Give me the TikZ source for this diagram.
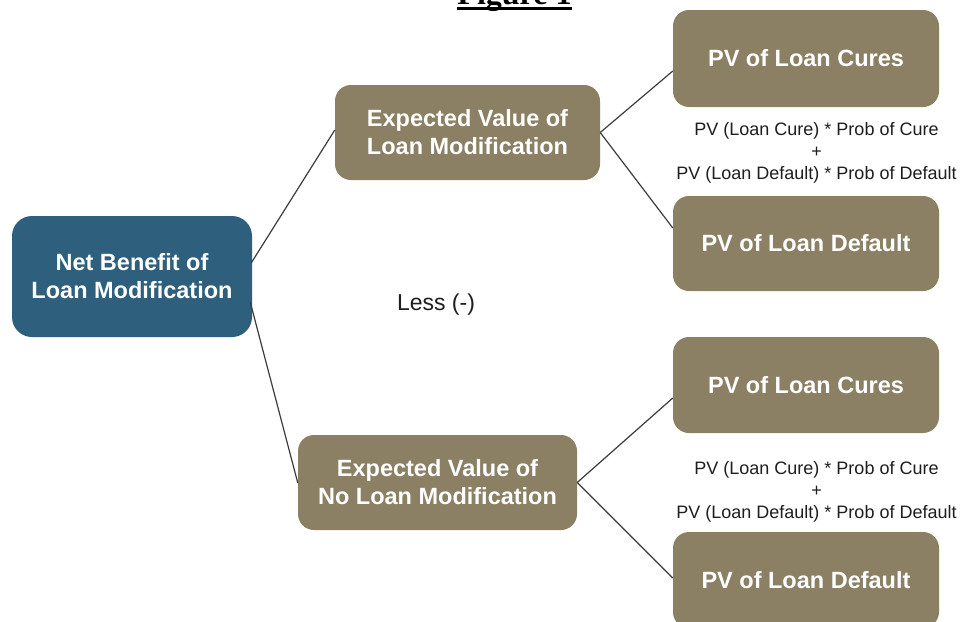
\documentclass[tikz,border=0pt]{standalone}
\usepackage{fontspec}
\setmainfont{Liberation Sans}
\newfontfamily\titlefont{Liberation Serif}
\definecolor{rootblue}{RGB}{46,95,124}
\definecolor{branchtan}{RGB}{139,128,100}
\definecolor{linkgray}{RGB}{60,60,60}
\definecolor{notegray}{RGB}{30,30,30}
\tikzset{
  rootbox/.style={draw=none, fill=rootblue, rounded corners=20pt, text=white,
    font=\bfseries\fontsize{23.5}{28}\selectfont, align=center, inner sep=0pt},
  leafbox/.style={draw=none, fill=branchtan, rounded corners=16pt, text=white,
    font=\bfseries\fontsize{23.5}{28}\selectfont, align=center, inner sep=0pt,
    minimum width=266pt},
  link/.style={draw=linkgray, line width=1.2pt},
  formula/.style={text=notegray, align=center, inner sep=0pt,
    font=\fontsize{18}{22}\selectfont}
}
\begin{document}
\begin{tikzpicture}[x=1pt,y=-1pt]
\path[use as bounding box, clip] (0,0) rectangle (960,621);
\fill[white] (0,0) rectangle (960,621);

% heading, partly above the page edge
\node[anchor=base, inner sep=0pt, font=\titlefont\bfseries\fontsize{32}{36}\selectfont] (title) at (514.5,5) {Figure 1};
\draw[line width=3pt] ([yshift=-3.5pt]title.base west) -- ([yshift=-3.5pt]title.base east);

% root
\node[rootbox, minimum width=240pt, minimum height=121pt] (nb) at (132,276.5) {Net Benefit of\\Loan Modification};

% middle level
\node[leafbox, minimum width=265pt, minimum height=95pt] (ev1) at (467.5,132.5) {Expected Value of\\Loan Modification};
\node[leafbox, minimum width=279pt, minimum height=95pt] (ev2) at (437.5,482.5) {Expected Value of\\No Loan Modification};

% outcomes
\node[leafbox, minimum height=97pt] (pc1) at (806,58.5) {PV of Loan Cures};
\node[leafbox, minimum height=95pt] (pd1) at (806,243.5) {PV of Loan Default};
\node[leafbox, minimum height=96pt] (pc2) at (806,385) {PV of Loan Cures};
\node[leafbox, minimum height=96pt] (pd2) at (806,580) {PV of Loan Default};

% connectors
\draw[link] ([xshift=-1pt,yshift=13.5pt]nb.east) -- ([yshift=2.5pt]ev1.west);
\draw[link] ([xshift=-2pt,yshift=-25.5pt]nb.east) -- ([yshift=-0.5pt]ev2.west);
\draw[link] (ev1.east) -- ([yshift=-12.5pt]pc1.west);
\draw[link] (ev1.east) -- ([yshift=15.5pt]pd1.west);
\draw[link] (ev2.east) -- ([yshift=-13pt]pc2.west);
\draw[link] (ev2.east) -- ([yshift=2pt]pd2.west);

% annotations
\node[formula] (f1) at (816.5,153) {PV (Loan Cure) * Prob of Cure\\+\\PV (Loan Default) * Prob of Default};
\node[formula] (f2) at (816.5,491.5) {PV (Loan Cure) * Prob of Cure\\+\\PV (Loan Default) * Prob of Default};
\node[text=notegray, inner sep=0pt, font=\fontsize{23}{26}\selectfont] (less) at (436,305) {Less (-)};
\end{tikzpicture}
\end{document}
